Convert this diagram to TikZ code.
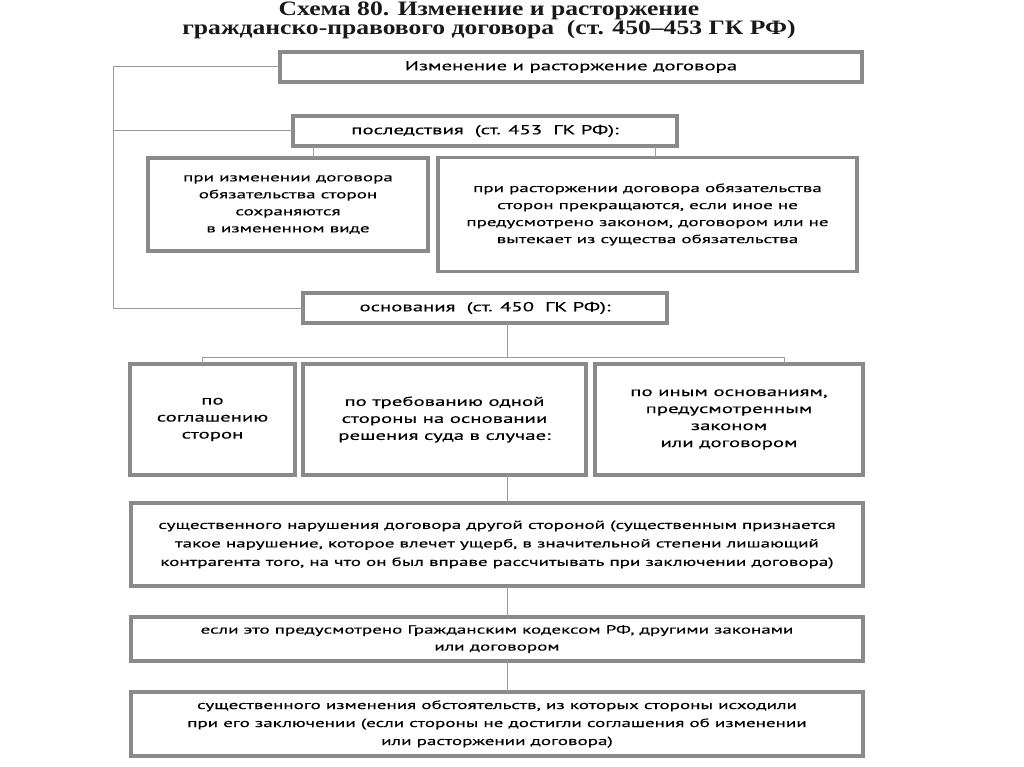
\documentclass[tikz,border=0pt]{standalone}
\usepackage{fontspec}
\setmainfont{PT Sans}[FakeStretch=1.6,FakeBold=0.3]
\newfontfamily\titlefont{Liberation Serif}[FakeStretch=1.25]
\usepackage{xcolor}
\usetikzlibrary{positioning,calc}
\definecolor{frame}{HTML}{8A8A8A}
\definecolor{wire}{HTML}{9A9A9A}

\begin{document}
\begin{tikzpicture}[x=1pt,y=-1pt,every node/.style={outer sep=0pt},
		box/.style={draw=frame,line width=3.2pt,fill=white,align=center,inner sep=2pt,
		text=black,font=\fontsize{13}{17}\selectfont},
		dense/.style={font=\fontsize{11.9}{17}\selectfont},
		link/.style={draw=wire,line width=1pt},
		]
		\fill[white] (0,0) rectangle (1024,767);
		\useasboundingbox (0,0) rectangle (1024,767);

		\node[font=\titlefont\bfseries\fontsize{20.5}{19}\selectfont,align=center,text=black!90] (title) at (489,20.5)
		{Схема 80. Изменение и расторжение\\гражданско-правового договора\ \ (ст. 450–453 ГК РФ)};

		\node[box,minimum width=582,minimum height=30] (change) at (571,67) {Изменение и расторжение договора};
		\node[box,minimum width=384,minimum height=30] (effects) at (485,131) {последствия\ \ (ст. 453\ \ ГК РФ):};
		\node[box,dense,minimum width=280,minimum height=93] (keep) at (288,204.5)
		{при изменении договора\\обязательства сторон\\сохраняются\\в измененном виде};
		\node[box,dense,minimum width=419,minimum height=114] (stop) at (647.5,214.5)
		{при расторжении договора обязательства\\сторон прекращаются, если иное не\\предусмотрено законом, договором или не\\вытекает из существа обязательства};
		\node[box,minimum width=364,minimum height=30] (grounds) at (485,308) {основания\ \ (ст. 450\ \ ГК РФ):};

		\node[box,minimum width=165,minimum height=111] (agree) at (212.5,419.5) {по\\соглашению\\сторон};
		\node[box,right=8pt of agree,minimum width=283,minimum height=111] (court)
		{по требованию одной\\стороны на основании\\решения суда в случае:};
		\node[box,right=9pt of court,minimum width=268,minimum height=111] (other)
		{по иным основаниям,\\предусмотренным\\законом\\или договором};

		\node[box,dense,font=\fontsize{11.9}{18.5}\selectfont,minimum width=732,minimum height=83] (breach) at (497,544.5)
		{существенного нарушения договора другой стороной (существенным признается\\такое нарушение, которое влечет ущерб, в значительной степени лишающий\\контрагента того, на что он был вправе рассчитывать при заключении договора)};
		\node[box,dense,below=31pt of breach,minimum width=732,minimum height=44] (law)
		{если это предусмотрено Гражданским кодексом РФ, другими законами\\или договором};
		\node[box,dense,font=\fontsize{11.9}{18}\selectfont,below=31pt of law,minimum width=732,minimum height=64] (circ)
		{существенного изменения обстоятельств, из которых стороны исходили\\при его заключении (если стороны не достигли соглашения об изменении\\или расторжении договора)};

		% left bus
		\coordinate (bus) at (113,0);
		\draw[link] (change.west) -- (change.west -| bus) |- (grounds.west);
		\draw[link] (effects.west) -- (effects.west -| bus);

		% consequences
		\coordinate (k1) at ($(keep.north)+(25,0)$);
		\coordinate (k2) at ($(stop.north)+(7.5,0)$);
		\draw[link] (k1 |- effects.south) -- (k1);
		\draw[link] (k2 |- effects.south) -- (k2);

		% grounds
		\coordinate (trunk) at ($(grounds.south)+(22,0)$);
		\coordinate (fork) at ($(trunk)+(0,34)$);
		\coordinate (f1) at ($(agree.north)+(-10,0)$);
		\coordinate (f3) at ($(other.north)+(55,0)$);
		\draw[link] (trunk) -- (fork);
		\draw[link] (f1) |- (f3 |- fork) -- (f3);

		\draw[link] (trunk |- court.south) -- (trunk |- breach.north);
		\draw[link] (trunk |- breach.south) -- (trunk |- law.north);
		\draw[link] (trunk |- law.south) -- (trunk |- circ.north);
\end{tikzpicture}
\end{document}
